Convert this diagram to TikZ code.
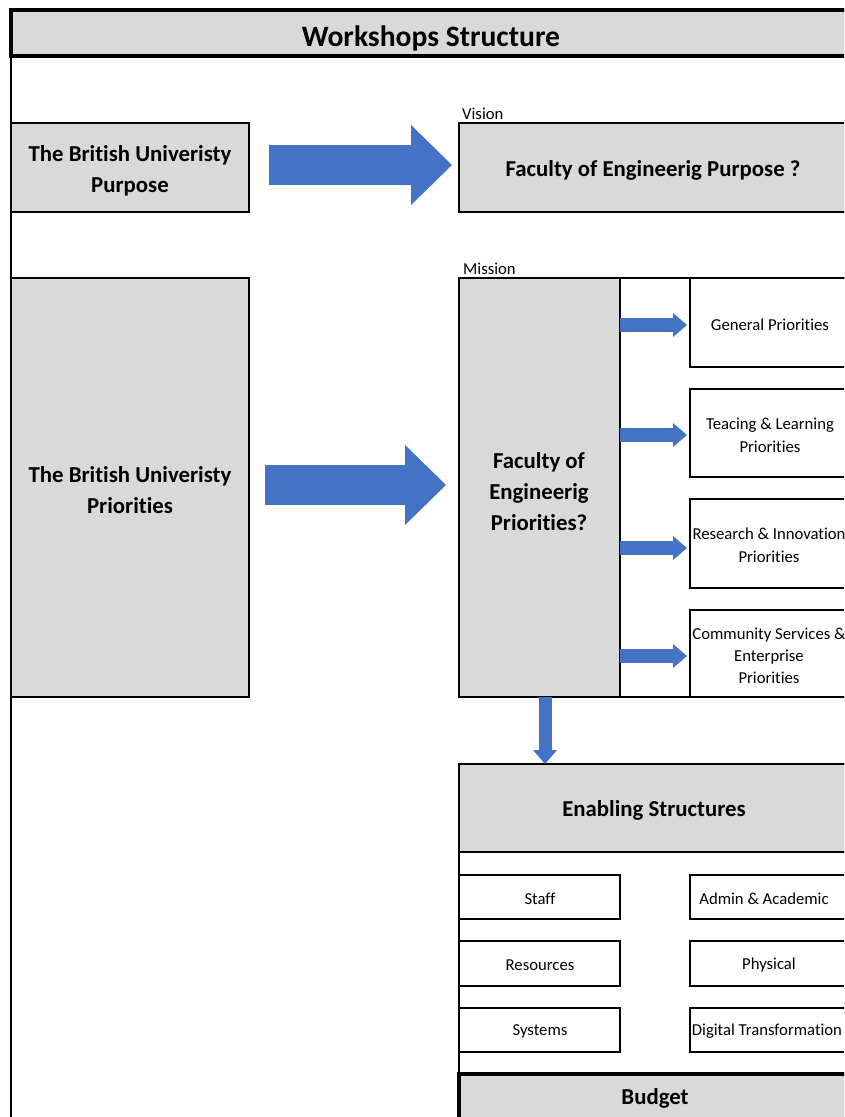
\documentclass[tikz,border=0pt]{standalone}
\usepackage{fontspec}
\setmainfont{Carlito}[Ligatures=NoCommon]
\usetikzlibrary{arrows.meta,calc}
\definecolor{lgray}{HTML}{D9D9D9}
\definecolor{ablue}{HTML}{4472C4}
\newcommand{\bigfont}{\bfseries\fontsize{22.8}{31}\selectfont}
\newcommand{\smallfont}{\fontsize{16.7}{22.5}\selectfont}
\tikzset{
  gbox/.style={draw, line width=2.8pt, fill=lgray, inner sep=0pt, outer sep=0pt, align=center,
    anchor=north west},
  wbox/.style={draw, line width=2.8pt, fill=white, inner sep=0pt, outer sep=0pt, anchor=north west},
  sbox/.style={draw, line width=1.9pt, fill=white, inner sep=0pt, outer sep=0pt, align=center,
    anchor=north west, font=\smallfont},
  bigtxt/.style={font=\bigfont, align=center, inner sep=0pt, yshift=-2pt},
  smalltxt/.style={font=\smallfont, align=center, inner sep=0pt, yshift=-1pt},
  lbl/.style={anchor=west, inner sep=0pt, font=\fontsize{16.7}{19}\selectfont, yshift=-1pt},
  bigarrow/.style={ablue, line width=40pt, -{Triangle[length=41pt,width=80pt,line width=0pt]}},
  smallarrow/.style={ablue, line width=14pt, -{Triangle[length=14pt,width=24pt,line width=0pt]}},
}
\begin{document}
\begin{tikzpicture}[x=1pt,y=-1pt]
\useasboundingbox (0,0) rectangle (844,1117);
\clip (0,0) rectangle (844,1117);
% outer frame
\draw[line width=2.2pt] (11,1140) -- (11,10) -- (860,10);
\node[gbox, line width=3.2pt, minimum width=850pt, minimum height=46pt] (title) at (11,10) {};
\node[font=\bfseries\fontsize{29.6}{32}\selectfont, inner sep=0pt, yshift=-2pt] (titletext) at (431,36) {Workshops Structure};
% row 1
\node[gbox, minimum width=238pt, minimum height=89pt] (bup) at (11,123) {};
\node[bigtxt] (buptext) at (130,169) {The British Univeristy\\Purpose};
\node[gbox, minimum width=391pt, minimum height=89pt] (fep) at (459,123) {};
\node[bigtxt] (feptext) at (653,168) {Faculty of Engineerig Purpose ?};
\node[lbl] (vision) at (462,113) {Vision};
\coordinate (a1s) at ($(bup.east)+(20,-2.5)$);
\coordinate (a1e) at ($(fep.west)+(-7,-2.5)$);
\draw[bigarrow] (a1s) -- (a1e);
% row 2
\node[gbox, minimum width=238pt, minimum height=419pt] (bupr) at (11,278) {};
\node[bigtxt] (buprtext) at (130,488) {The British Univeristy\\Priorities};
\node[wbox, minimum width=391pt, minimum height=419pt] (mission) at (459,278) {};
\node[gbox, minimum width=161pt, minimum height=419pt] (fepr) at (459,278) {};
\node[bigtxt] (feprtext) at (539,489.5) {Faculty of\\Engineerig\\Priorities?};
\node[lbl] (missionlbl) at (463,268) {Mission};
\coordinate (a2s) at ($(bupr.east)+(16,-2.5)$);
\coordinate (a2e) at ($(fepr.west)+(-13,-2.5)$);
\draw[bigarrow] (a2s) -- (a2e);
% priorities
\node[sbox, minimum width=160pt, minimum height=89pt] (p1) at (690,278) {};
\node[smalltxt] (p1t) at (770,323.5) {General Priorities};
\node[sbox, minimum width=160pt, minimum height=88pt] (p2) at (690,389) {};
\node[smalltxt] (p2t) at (770,434.5) {Teacing \& Learning\\Priorities};
\node[sbox, minimum width=160pt, minimum height=89pt] (p3) at (690,499) {};
\node[smalltxt] (p3t) at (769,544.5) {Research \& Innovation\\Priorities};
\node[sbox, minimum width=160pt, minimum height=87pt] (p4) at (690,610) {};
\node[smalltxt, font=\fontsize{16.7}{22}\selectfont] (p4t) at (769,655) {Community Services \&\\Enterprise\\Priorities};
\draw[wbox, fill=none] (459,278) rectangle (860,697);
\draw[line width=2.8pt] (fepr.north east) -- (fepr.south east);
\foreach \p/\y in {p1/325,p2/435,p3/548,p4/656}{
  \draw[smallarrow] (fepr.east |- 0,\y) -- ($(\p.west |- 0,\y)+(-3,0)$);
}
% enabling structures
\node[wbox, minimum width=391pt, minimum height=380pt] (enab) at (459,764) {};
\node[gbox, minimum width=391pt, minimum height=88pt] (enabh) at (459,764) {};
\node[bigtxt] (enabt) at (654,808.5) {Enabling Structures};
\coordinate (dstart) at (545,697);
\draw[smallarrow, line width=13pt] (dstart) -- (dstart |- enabh.north);
\node[sbox, minimum width=161pt, minimum height=44pt] (staff) at (459,875) {};
\node[smalltxt] (stafft) at (540,897.5) {Staff};
\node[sbox, minimum width=160pt, minimum height=44pt] (admin) at (690,875) {};
\node[smalltxt] (admint) at (764,897.5) {Admin \& Academic};
\node[sbox, minimum width=161pt, minimum height=45pt] (res) at (459,941) {};
\node[smalltxt] (rest) at (540,964.5) {Resources};
\node[sbox, minimum width=160pt, minimum height=45pt] (phys) at (690,941) {};
\node[smalltxt] (physt) at (769,964.5) {Physical};
\node[sbox, minimum width=161pt, minimum height=44pt] (sys) at (459,1008) {};
\node[smalltxt] (syst) at (540,1030.5) {Systems};
\node[sbox, minimum width=160pt, minimum height=44pt] (dig) at (690,1008) {};
\node[smalltxt] (digt) at (767,1030.5) {Digital Transformation};
\draw[line width=2.8pt] (459,764) -- (459,1140);
\node[gbox, line width=3.2pt, minimum width=391pt, minimum height=60pt] (budget) at (459,1074) {};
\node[bigtxt] (budgett) at (655,1096.5) {Budget};
\end{tikzpicture}
\end{document}
